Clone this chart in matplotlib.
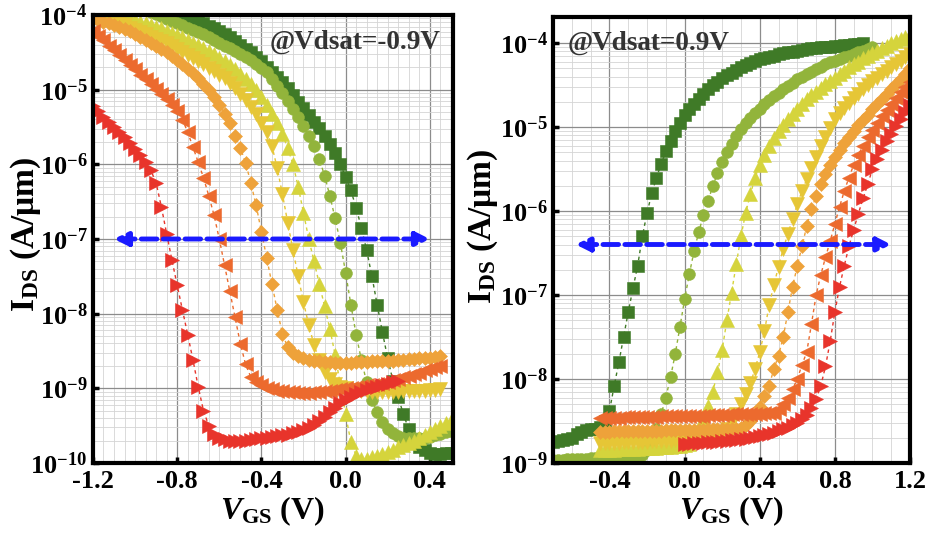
import numpy as np
import matplotlib
matplotlib.use("Agg")
import matplotlib.pyplot as plt
from matplotlib.ticker import FixedLocator, MultipleLocator, FuncFormatter, LogLocator, NullFormatter

# ---------------- data (log10 of I_DS in A/um) ----------------
STEP = 0.025
vgs_left = np.arange(-1.2, 0.5 + 1e-9, STEP)     # p-type sweep grid
vgs_right = np.arange(-0.7, 1.2 + 1e-9, STEP)    # n-type sweep grid

# left panel (Vds = -0.9 V)
left_red = [-5.22,-5.29,-5.36,-5.43,-5.50,-5.57,-5.64,-5.72,-5.80,-5.88,
            -5.97,-6.08,-6.25,-6.57,-6.93,-7.28,-7.62,-7.95,-8.28,-8.62,
            -8.98,-9.30,-9.50,-9.61,-9.66,-9.68,-9.70,-9.70,-9.70,-9.70,
            -9.69,-9.68,-9.67,-9.66,-9.65,-9.64,-9.63,-9.62,-9.60,-9.58,
            -9.56,-9.53,-9.49,-9.44,-9.38,-9.32,-9.26,-9.20,-9.15,-9.11,
            -9.08,-9.05,-9.02,-9.00,-8.98,-8.96,-8.94,-8.92,-8.90]
left_orangered = [-4.22,-4.28,-4.34,-4.41,-4.47,-4.54,-4.60,-4.67,-4.73,-4.80,
                  -4.86,-4.93,-4.99,-5.06,-5.13,-5.20,-5.28,-5.40,-5.57,-5.77,
                  -5.97,-6.18,-6.42,-6.68,-7.00,-7.35,-7.70,-8.05,-8.40,-8.68,
                  -8.85,-8.92,-8.96,-8.99,-9.01,-9.03,-9.04,-9.05,-9.05,-9.06,
                  -9.06,-9.06,-9.05,-9.05,-9.04,-9.03,-9.02,-9.01,-9.00,-8.99,
                  -8.98,-8.97,-8.96,-8.95,-8.94,-8.93,-8.91,-8.89,-8.87,-8.85,
                  -8.83,-8.81,-8.79,-8.76,-8.74,-8.72,-8.70]
left_orange = [-4.05,-4.07,-4.09,-4.11,-4.14,-4.16,-4.19,-4.22,-4.25,-4.29,
               -4.33,-4.37,-4.41,-4.45,-4.50,-4.55,-4.60,-4.66,-4.72,-4.78,
               -4.85,-4.93,-5.01,-5.10,-5.20,-5.32,-5.45,-5.62,-5.78,-5.98,
               -6.25,-6.55,-6.90,-7.25,-7.60,-7.95,-8.27,-8.45,-8.53,-8.57,
               -8.60,-8.62,-8.63,-8.64,-8.65,-8.65,-8.66,-8.66,-8.66,-8.66,
               -8.65,-8.65,-8.65,-8.64,-8.64,-8.64,-8.63,-8.63,-8.62,-8.62,
               -8.61,-8.61,-8.60,-8.60,-8.59,-8.58,-8.57]
left_yellow_v = [-4.00,-4.02,-4.04,-4.07,-4.09,-4.11,-4.14,-4.17,-4.20,-4.23,
                 -4.26,-4.29,-4.32,-4.35,-4.38,-4.41,-4.45,-4.49,-4.53,-4.57,
                 -4.62,-4.66,-4.71,-4.75,-4.80,-4.85,-4.91,-4.98,-5.06,-5.14,
                 -5.23,-5.33,-5.44,-5.57,-5.75,-6.05,-6.40,-6.78,-7.15,-7.50,
                 -7.85,-8.15,-8.42,-8.62,-8.78,-8.88,-8.94,-8.98,-9.00,-9.02,
                 -9.03,-9.04,-9.04,-9.05,-9.05,-9.05,-9.05,-9.05,-9.05,-9.04,
                 -9.04,-9.04,-9.03,-9.03,-9.02,-9.02,-9.01]
left_yellow_up = [-3.93,-3.95,-3.96,-3.98,-3.99,-4.01,-4.03,-4.05,-4.07,-4.09,
                  -4.11,-4.13,-4.16,-4.18,-4.21,-4.24,-4.27,-4.30,-4.33,-4.37,
                  -4.40,-4.44,-4.48,-4.52,-4.57,-4.62,-4.67,-4.73,-4.79,-4.86,
                  -4.93,-5.01,-5.10,-5.20,-5.32,-5.45,-5.60,-5.78,-6.00,-6.30,
                  -6.65,-7.00,-7.30,-7.60,-7.90,-8.20,-8.55,-8.95,-9.35,-9.72,
                  -9.90,-9.95,-9.94,-9.92,-9.90,-9.88,-9.85,-9.82,-9.79,-9.76,
                  -9.73,-9.70,-9.66,-9.62,-9.58,-9.54,-9.50,-9.47,-9.44]
left_olive = [-3.72,-3.74,-3.76,-3.78,-3.80,-3.82,-3.84,-3.86,-3.88,-3.90,
              -3.93,-3.96,-3.99,-4.02,-4.05,-4.08,-4.11,-4.14,-4.17,-4.20,
              -4.23,-4.26,-4.30,-4.34,-4.37,-4.41,-4.44,-4.48,-4.52,-4.56,
              -4.60,-4.65,-4.71,-4.77,-4.86,-4.95,-5.05,-5.15,-5.26,-5.37,
              -5.49,-5.62,-5.76,-5.93,-6.15,-6.42,-6.72,-7.05,-7.45,-7.88,
              -8.28,-8.62,-8.92,-9.15,-9.32,-9.45,-9.54,-9.60,-9.64,-9.66,
              -9.67,-9.67,-9.67,-9.66,-9.65,-9.63,-9.61,-9.59,-9.57]
left_green = [-3.62,-3.64,-3.66,-3.68,-3.70,-3.72,-3.74,-3.76,-3.78,-3.80,
              -3.82,-3.85,-3.87,-3.90,-3.92,-3.95,-3.97,-4.00,-4.03,-4.05,
              -4.08,-4.11,-4.15,-4.18,-4.22,-4.26,-4.30,-4.35,-4.40,-4.45,
              -4.50,-4.56,-4.62,-4.69,-4.76,-4.83,-4.90,-4.98,-5.07,-5.16,
              -5.25,-5.34,-5.43,-5.52,-5.62,-5.73,-5.85,-6.00,-6.17,-6.35,
              -6.58,-6.85,-7.15,-7.50,-7.88,-8.25,-8.60,-8.90,-9.12,-9.35,
              -9.55,-9.70,-9.78,-9.83,-9.86,-9.88,-9.88,-9.87,-9.86]

# right panel (Vds = 0.9 V); start index into vgs_right
right_green_start = 0
right_green = [-8.75,-8.74,-8.73,-8.72,-8.70,-8.66,-8.63,-8.61,-8.60,-8.59,
               -8.57,-8.50,-8.38,-8.08,-7.80,-7.50,-7.20,-6.92,-6.65,-6.30,
               -6.02,-5.79,-5.60,-5.44,-5.29,-5.16,-5.05,-4.95,-4.86,-4.79,
               -4.72,-4.66,-4.60,-4.55,-4.50,-4.46,-4.42,-4.38,-4.35,-4.32,
               -4.29,-4.26,-4.24,-4.21,-4.19,-4.18,-4.16,-4.15,-4.13,-4.12,
               -4.11,-4.10,-4.09,-4.08,-4.07,-4.06,-4.06,-4.05,-4.04,-4.04,
               -4.03,-4.03,-4.02,-4.02,-4.01,-4.01,-4.00]
right_olive_start = 0
right_olive = [-8.96,-8.96,-8.96,-8.95,-8.95,-8.95,-8.95,-8.95,-8.94,-8.94,
               -8.94,-8.94,-8.94,-8.93,-8.93,-8.93,-8.93,-8.92,-8.92,-8.90,
               -8.85,-8.75,-8.60,-8.42,-8.22,-7.98,-7.70,-7.38,-7.05,-6.75,
               -6.48,-6.25,-6.05,-5.88,-5.70,-5.55,-5.42,-5.30,-5.20,-5.10,
               -5.02,-4.95,-4.89,-4.83,-4.78,-4.73,-4.68,-4.63,-4.59,-4.55,
               -4.51,-4.47,-4.43,-4.40,-4.37,-4.34,-4.31,-4.28,-4.25,-4.23,
               -4.21,-4.19,-4.17,-4.15,-4.13,-4.11,-4.09,-4.07,-4.05]
right_yellow_up_start = 10
right_yellow_up = [-8.84,-8.84,-8.84,-8.84,-8.83,-8.83,-8.83,-8.83,-8.83,-8.82,
                   -8.82,-8.82,-8.82,-8.81,-8.81,-8.81,-8.80,-8.80,-8.79,-8.77,
                   -8.72,-8.62,-8.48,-8.32,-8.15,-7.92,-7.65,-7.30,-6.97,-6.63,
                   -6.30,-6.02,-5.80,-5.60,-5.45,-5.33,-5.22,-5.13,-5.05,-4.97,
                   -4.90,-4.84,-4.78,-4.72,-4.67,-4.62,-4.58,-4.53,-4.49,-4.45,
                   -4.41,-4.37,-4.33,-4.29,-4.25,-4.22,-4.18,-4.15,-4.12,-4.09,
                   -4.06,-4.03,-4.00,-3.98,-3.95,-3.93,-3.90]
right_yellow_v_start = 10
right_yellow_v = [-8.76,-8.76,-8.76,-8.76,-8.76,-8.75,-8.75,-8.75,-8.75,-8.75,
                  -8.75,-8.74,-8.74,-8.74,-8.74,-8.74,-8.73,-8.73,-8.73,-8.73,
                  -8.72,-8.72,-8.71,-8.70,-8.70,-8.68,-8.65,-8.60,-8.52,-8.42,
                  -8.30,-8.18,-8.05,-7.88,-7.68,-7.43,-7.12,-6.88,-6.66,-6.45,
                  -6.27,-6.09,-5.92,-5.76,-5.62,-5.49,-5.35,-5.23,-5.12,-5.01,
                  -4.90,-4.83,-4.77,-4.71,-4.65,-4.60,-4.55,-4.50,-4.45,-4.41,
                  -4.37,-4.33,-4.29,-4.25,-4.21,-4.17,-4.13]
right_orange_start = 10
right_orange = [-8.63,-8.63,-8.63,-8.62,-8.62,-8.62,-8.62,-8.62,-8.62,-8.62,
                -8.62,-8.62,-8.62,-8.62,-8.61,-8.61,-8.61,-8.61,-8.61,-8.61,
                -8.61,-8.61,-8.61,-8.60,-8.60,-8.60,-8.60,-8.60,-8.59,-8.59,
                -8.58,-8.55,-8.50,-8.43,-8.33,-8.20,-8.08,-7.88,-7.72,-7.50,
                -7.20,-6.90,-6.65,-6.42,-6.18,-5.98,-5.82,-5.68,-5.56,-5.45,
                -5.36,-5.27,-5.19,-5.12,-5.05,-4.98,-4.92,-4.86,-4.78,-4.72,
                -4.66,-4.61,-4.55,-4.49,-4.43,-4.37,-4.30]
right_orangered_start = 10
right_orangered = [-8.46,-8.46,-8.46,-8.46,-8.46,-8.45,-8.45,-8.45,-8.45,-8.45,
                   -8.45,-8.45,-8.45,-8.44,-8.44,-8.44,-8.44,-8.44,-8.44,-8.44,
                   -8.44,-8.44,-8.44,-8.43,-8.43,-8.43,-8.43,-8.43,-8.42,-8.42,
                   -8.42,-8.42,-8.42,-8.42,-8.42,-8.41,-8.41,-8.40,-8.36,-8.30,
                   -8.22,-8.12,-8.00,-7.83,-7.68,-7.35,-7.00,-6.76,-6.55,-6.36,
                   -6.15,-5.95,-5.76,-5.60,-5.45,-5.33,-5.22,-5.12,-5.03,-4.95,
                   -4.87,-4.80,-4.72,-4.65,-4.58,-4.52,-4.46]
right_red_start = 28
right_red = [-8.77,-8.77,-8.76,-8.76,-8.76,-8.75,-8.75,-8.75,-8.74,-8.74,
             -8.73,-8.73,-8.72,-8.71,-8.70,-8.69,-8.68,-8.67,-8.65,-8.64,
             -8.62,-8.60,-8.58,-8.55,-8.52,-8.48,-8.43,-8.35,-8.24,-8.08,
             -7.85,-7.55,-7.20,-6.90,-6.65,-6.42,-6.22,-6.03,-5.85,-5.68,
             -5.50,-5.38,-5.27,-5.17,-5.08,-4.99,-4.90,-4.82,-4.74]

# blue double arrows: (x_start, x_end, current level)
left_arrow = (-1.10, 0.40, 1e-7)
right_arrow = (-0.58, 1.10, 4e-7)

left_note = "@Vdsat=-0.9V"
right_note = "@Vdsat=0.9V"
left_xticks = [-1.2, -0.8, -0.4, 0.0, 0.4]
right_xticks = [-0.4, 0.0, 0.4, 0.8, 1.2]

# ---------------- style ----------------
C_GREEN = "#3f7a27"
C_OLIVE = "#92b43b"
C_YUP = "#d5d43c"
C_YV = "#e6c636"
C_ORANGE = "#eea23a"
C_ORED = "#ec6a2e"
C_RED = "#e8342b"

plt.rcParams.update({
    "font.family": ["Liberation Serif", "DejaVu Serif"],
    "font.weight": "bold",
    "mathtext.fontset": "custom",
    "mathtext.rm": "Liberation Serif:bold",
    "mathtext.bf": "Liberation Serif:bold",
    "mathtext.it": "Liberation Serif:italic:bold",
    "axes.unicode_minus": False,
})

fig = plt.figure(figsize=(9.25, 5.37), dpi=100)
axL = fig.add_axes([0.1005, 0.1378, 0.3892, 0.8343])
axR = fig.add_axes([0.5980, 0.1378, 0.3858, 0.8306])


def draw(ax, x, logs, marker, color, ms):
    ax.plot(x, 10.0 ** np.asarray(logs), ls=(0, (2.5, 2.5)), lw=1.0,
            marker=marker, ms=ms, color=color, mec=color, mew=0.4)


n = len
draw(axL, vgs_left[:n(left_green)], left_green, "s", C_GREEN, 8)
draw(axL, vgs_left[:n(left_olive)], left_olive, "o", C_OLIVE, 8.5)
draw(axL, vgs_left[:n(left_yellow_up)], left_yellow_up, "^", C_YUP, 9.5)
draw(axL, vgs_left[:n(left_yellow_v)], left_yellow_v, "v", C_YV, 9.5)
draw(axL, vgs_left[:n(left_orange)], left_orange, "D", C_ORANGE, 7.5)
draw(axL, vgs_left[:n(left_orangered)], left_orangered, "<", C_ORED, 9.5)
draw(axL, vgs_left[:n(left_red)], left_red, ">", C_RED, 9.5)

for start, logs, mk, col, ms in [
        (right_green_start, right_green, "s", C_GREEN, 8),
        (right_olive_start, right_olive, "o", C_OLIVE, 8.5),
        (right_yellow_up_start, right_yellow_up, "^", C_YUP, 9.5),
        (right_yellow_v_start, right_yellow_v, "v", C_YV, 9.5),
        (right_orange_start, right_orange, "D", C_ORANGE, 7.5),
        (right_orangered_start, right_orangered, "<", C_ORED, 9.5),
        (right_red_start, right_red, ">", C_RED, 9.5)]:
    draw(axR, vgs_right[start:start + len(logs)], logs, mk, col, ms)

# arrows
for ax, (xa, xb, lev) in [(axL, left_arrow), (axR, right_arrow)]:
    ax.annotate("", xy=(xb, lev), xytext=(xa, lev),
                arrowprops=dict(arrowstyle="<|-|>", lw=3.5, ls=(0, (3.2, 1.3)),
                                color="#1a1aff", mutation_scale=20,
                                shrinkA=0, shrinkB=0), zorder=10)

log_fmt = FuncFormatter(lambda v, p: r"$\mathbf{10^{%d}}$" % int(round(np.log10(v))))

for ax, xlim, ylim, xt, minor in [
        (axL, (-1.2, 0.51), (1e-10, 1e-4), left_xticks, 0.05),
        (axR, (-0.7, 1.2), (1e-9, 2.05e-4), right_xticks, 0.1)]:
    ax.set_yscale("log")
    ax.set_xlim(*xlim)
    ax.set_ylim(*ylim)
    ax.xaxis.set_major_locator(FixedLocator(xt))
    ax.xaxis.set_major_formatter(FuncFormatter(lambda v, p: "%.1f" % v))
    ax.xaxis.set_minor_locator(MultipleLocator(minor))
    ax.yaxis.set_major_locator(LogLocator(base=10, numticks=20))
    ax.yaxis.set_minor_locator(LogLocator(base=10, subs=np.arange(2, 10), numticks=20))
    ax.yaxis.set_major_formatter(log_fmt)
    ax.yaxis.set_minor_formatter(NullFormatter())
    ax.set_axisbelow(True)
    ax.grid(True, which="major", color="#8c8c8c", lw=0.9)
    ax.grid(True, which="minor", color="#d4d4d4", lw=0.6)
    for s in ax.spines.values():
        s.set_linewidth(3)
    ax.tick_params(which="major", direction="in", length=4, width=2.5,
                   labelsize=19, pad=4)
    ax.tick_params(axis="x", which="major", pad=5)
    ax.tick_params(which="minor", length=0)
    for lab in ax.get_xticklabels() + ax.get_yticklabels():
        lab.set_fontweight("bold")
    ax.set_xlabel(r"$V_{\mathbf{GS}}$ (V)", fontsize=23, fontweight="bold")
    ax.set_ylabel(r"$\mathbf{I_{DS}}$ (A/μm)", fontsize=24, fontweight="bold")
    ax.xaxis.set_label_coords(0.5, -0.07)

axL.yaxis.set_label_coords(-0.138, 0.51)
axR.yaxis.set_label_coords(-0.15, 0.53)

axL.text(0.965, 0.94, left_note, transform=axL.transAxes, ha="right", va="center",
         fontsize=19.5, fontweight="bold", color="#333333")
axR.text(0.04, 0.942, right_note, transform=axR.transAxes, ha="left", va="center",
         fontsize=19.5, fontweight="bold", color="#333333")

fig.savefig("out.png", dpi=100)
